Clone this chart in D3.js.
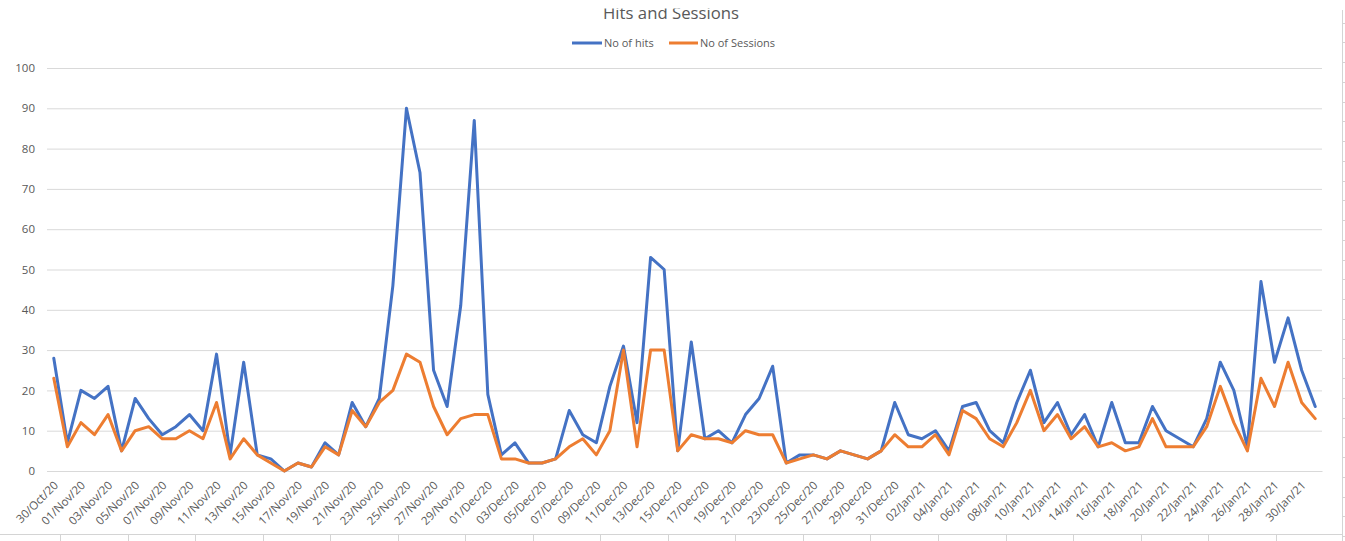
<!DOCTYPE html>
<html>
<head>
<meta charset="utf-8">
<script src="https://cdn.jsdelivr.net/npm/d3@7/dist/d3.min.js"></script>
<style>
  html, body { margin: 0; padding: 0; background: #ffffff; }
  svg { display: block; }
  text { font-family: "Open Sans", "Noto Sans", sans-serif; fill: #595959; }
</style>
</head>
<body>
<svg id="chart" width="1345" height="541"></svg>
<script>
const categories = [
  "30/Oct/20","31/Oct/20",
  "01/Nov/20","02/Nov/20","03/Nov/20","04/Nov/20","05/Nov/20","06/Nov/20","07/Nov/20","08/Nov/20","09/Nov/20","10/Nov/20",
  "11/Nov/20","12/Nov/20","13/Nov/20","14/Nov/20","15/Nov/20","16/Nov/20","17/Nov/20","18/Nov/20","19/Nov/20","20/Nov/20",
  "21/Nov/20","22/Nov/20","23/Nov/20","24/Nov/20","25/Nov/20","26/Nov/20","27/Nov/20","28/Nov/20","29/Nov/20","30/Nov/20",
  "01/Dec/20","02/Dec/20","03/Dec/20","04/Dec/20","05/Dec/20","06/Dec/20","07/Dec/20","08/Dec/20","09/Dec/20","10/Dec/20",
  "11/Dec/20","12/Dec/20","13/Dec/20","14/Dec/20","15/Dec/20","16/Dec/20","17/Dec/20","18/Dec/20","19/Dec/20","20/Dec/20",
  "21/Dec/20","22/Dec/20","23/Dec/20","24/Dec/20","25/Dec/20","26/Dec/20","27/Dec/20","28/Dec/20","29/Dec/20","30/Dec/20","31/Dec/20",
  "01/Jan/21","02/Jan/21","03/Jan/21","04/Jan/21","05/Jan/21","06/Jan/21","07/Jan/21","08/Jan/21","09/Jan/21","10/Jan/21",
  "11/Jan/21","12/Jan/21","13/Jan/21","14/Jan/21","15/Jan/21","16/Jan/21","17/Jan/21","18/Jan/21","19/Jan/21","20/Jan/21",
  "21/Jan/21","22/Jan/21","23/Jan/21","24/Jan/21","25/Jan/21","26/Jan/21","27/Jan/21","28/Jan/21","29/Jan/21","30/Jan/21","31/Jan/21"
];

const hits = [
  28, 7,
  20, 18, 21, 5, 18, 13, 9, 11, 14, 10,
  29, 4, 27, 4, 3, 0, 2, 1, 7, 4,
  17, 11, 18, 46, 90, 74, 25, 16, 41, 87,
  19, 4, 7, 2, 2, 3, 15, 9, 7, 21,
  31, 12, 53, 50, 5, 32, 8, 10, 7, 14,
  18, 26, 2, 4, 4, 3, 5, 4, 3, 5, 17,
  9, 8, 10, 5, 16, 17, 10, 7, 17, 25,
  12, 17, 9, 14, 6, 17, 7, 7, 16, 10,
  8, 6, 13, 27, 20, 6, 47, 27, 38, 25, 16
];

const sessions = [
  23, 6,
  12, 9, 14, 5, 10, 11, 8, 8, 10, 8,
  17, 3, 8, 4, 2, 0, 2, 1, 6, 4,
  15, 11, 17, 20, 29, 27, 16, 9, 13, 14,
  14, 3, 3, 2, 2, 3, 6, 8, 4, 10,
  30, 6, 30, 30, 5, 9, 8, 8, 7, 10,
  9, 9, 2, 3, 4, 3, 5, 4, 3, 5, 9,
  6, 6, 9, 4, 15, 13, 8, 6, 12, 20,
  10, 14, 8, 11, 6, 7, 5, 6, 13, 6,
  6, 6, 11, 21, 12, 5, 23, 16, 27, 17, 13
];

const yTicks = [0, 10, 20, 30, 40, 50, 60, 70, 80, 90, 100];
const seriesNames = ["No of hits", "No of Sessions"];
const seriesColors = ["#4472C4", "#ED7D31"];
const titleText = "Hits and Sessions";

(function () {
const svg = d3.select("#chart");
const W = 1345, H = 541;
const pLeft = 47, pRight = 1322, pTop = 68, pBottom = 471;

const x = d3.scaleBand().domain(categories).range([pLeft, pRight]).paddingInner(0).paddingOuter(0);
const y = d3.scaleLinear().domain([0, 100]).range([pBottom, pTop]);
const cx = c => x(c) + x.bandwidth() / 2;

// decorative spreadsheet edges
const deco = svg.append("g").attr("stroke", "#d4d4d4").attr("stroke-width", 1);
deco.append("line").attr("x1", 0).attr("x2", 1342).attr("y1", 534.5).attr("y2", 534.5);
for (let k = 0; k < 19; k++) {
  const xx = Math.round(60 + 67.54 * k) + 0.5;
  deco.append("line").attr("x1", xx).attr("x2", xx).attr("y1", 534.5).attr("y2", H);
}
deco.append("line").attr("x1", 1342.5).attr("x2", 1342.5).attr("y1", 10).attr("y2", H);
for (let k = 0; k < 27; k++) {
  const yy = Math.round(22.7 + 19.75 * k) + 0.5;
  deco.append("line").attr("x1", 1342.5).attr("x2", 1345).attr("y1", yy).attr("y2", yy);
}

// gridlines + y axis labels
const yAxis = d3.axisLeft(y).tickValues(yTicks).tickSize(-(pRight - pLeft)).tickPadding(12);
const gy = svg.append("g").attr("transform", `translate(${pLeft},0)`).call(yAxis);
gy.select(".domain").remove();
gy.selectAll(".tick line").attr("stroke", "#d9d9d9").attr("stroke-width", 1);
gy.selectAll(".tick text").attr("font-size", "11.5px").attr("fill", "#595959")
  .style("font-family", '"Open Sans", sans-serif');

// x axis labels (every second category)
const xAxis = d3.axisBottom(x).tickValues(categories.filter((d, i) => i % 2 === 0)).tickSize(0);
const gx = svg.append("g").attr("transform", `translate(0,${pBottom})`).call(xAxis);
gx.select(".domain").attr("stroke", "#d9d9d9");
gx.selectAll(".tick text")
  .attr("font-size", "11.5px")
  .attr("fill", "#595959")
  .style("font-family", '"Open Sans", sans-serif')
  .attr("text-anchor", "end")
  .attr("dy", null)
  .attr("y", 0)
  .attr("transform", "translate(5,15) rotate(-45)");

// lines
const lineGen = d3.line().x((d, i) => cx(categories[i])).y(d => y(d));
[hits, sessions].forEach((arr, si) => {
  svg.append("path")
    .datum(arr)
    .attr("fill", "none")
    .attr("stroke", seriesColors[si])
    .attr("stroke-width", 3)
    .attr("stroke-linejoin", "round")
    .attr("stroke-linecap", "round")
    .attr("d", lineGen);
});

// title (top clipped as in reference)
svg.append("defs").append("clipPath").attr("id", "titleClip")
  .append("rect").attr("x", 0).attr("y", 8.5).attr("width", W).attr("height", 30);
const title = svg.append("text")
  .attr("x", 671).attr("y", 18.5)
  .attr("text-anchor", "middle")
  .attr("font-size", "18px")
  .attr("clip-path", "url(#titleClip)")
  .text(titleText);
const tl = title.node().getComputedTextLength();
title.attr("font-size", (18 * 136 / tl).toFixed(2) + "px");

// legend
const legend = svg.append("g");
const legItems = [
  { x0: 572, x1: 602, tx: 604, name: seriesNames[0], color: seriesColors[0] },
  { x0: 669, x1: 698, tx: 700, name: seriesNames[1], color: seriesColors[1] }
];
legItems.forEach(it => {
  legend.append("line").attr("x1", it.x0).attr("x2", it.x1).attr("y1", 43).attr("y2", 43)
    .attr("stroke", it.color).attr("stroke-width", 3);
  legend.append("text").attr("x", it.tx).attr("y", 47).attr("font-size", "11px").text(it.name);
});
})();
</script>
</body>
</html>
